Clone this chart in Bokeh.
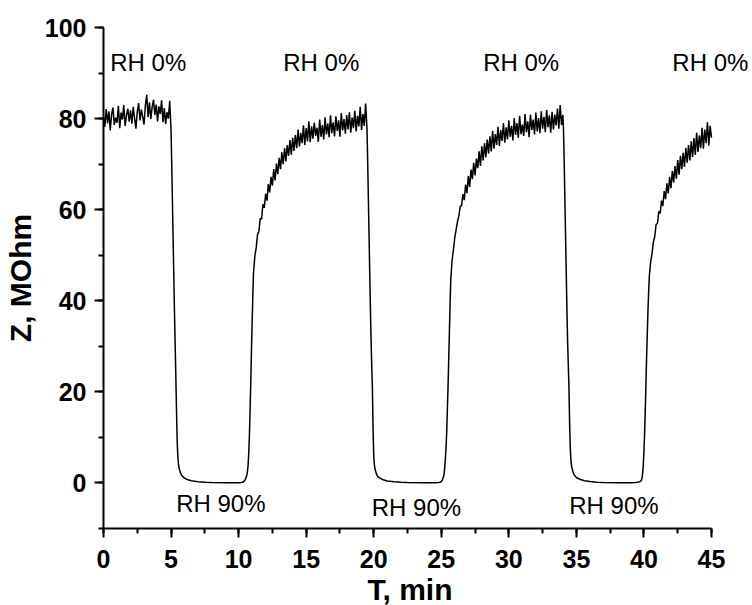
import numpy as np
from bokeh.plotting import figure
from bokeh.models import Range1d, SingleIntervalTicker, Label, Title
from bokeh.embed import file_html
from bokeh.resources import INLINE

# ---- data (Z in MOhm vs T in min) ----
STEP = 0.1
plateau0_t0 = 0.0
plateau0_z = [80.5, 78.2, 82.1, 79.0, 81.6, 77.4, 80.9, 82.4, 78.6, 80.2,
              79.1, 82.8, 77.9, 81.3, 79.8, 83.0, 78.4, 80.7, 82.2, 79.3,
              81.8, 78.9, 82.6, 80.1, 77.8, 81.5, 83.4, 79.6, 82.0, 80.4,
              78.7, 82.9, 85.2, 80.3, 83.6, 79.9, 82.5, 84.1, 80.8, 83.1,
              79.4, 82.7, 81.0, 84.0, 79.2, 82.3, 78.8, 81.4, 80.0, 83.9]

fall1_t = [5.0, 5.05, 5.1, 5.15, 5.2, 5.25, 5.3, 5.35, 5.4, 5.45, 5.5, 5.55, 5.6, 5.7, 5.8,
           6.0, 6.2, 6.5, 7.0, 7.5, 8.0, 9.0, 10.0, 10.2, 10.3, 10.4, 10.5, 10.6, 10.65,
           10.7, 10.75, 10.8, 10.85, 10.9, 10.95, 11.0, 11.05]
fall1_z = [77.5, 70.0, 62.0, 54.0, 46.0, 38.0, 31.0, 24.0, 16.5, 9.5, 5.8, 4.1, 3.2, 2.2, 1.6,
           1.05, 0.75, 0.5, 0.28, 0.16, 0.09, 0.04, 0.06, 0.1, 0.15, 0.35, 0.8, 1.6, 2.4,
           3.8, 6.5, 10.5, 16.0, 22.0, 29.0, 35.0, 41.0]

rise1_t0 = 11.1
rise1_z = [46.0, 49.8, 51.6, 54.5, 55.2, 58.1, 57.9, 61.2, 60.4,
           63.5, 62.0, 65.6, 63.8, 67.2, 65.3, 68.9, 66.4, 70.1, 67.8,
           71.4, 68.9, 72.6, 70.0, 73.5, 70.6, 74.2, 71.8, 75.3, 72.1,
           75.8, 72.9, 76.4, 73.5, 77.6, 73.9, 76.8, 74.6, 78.5, 74.2,
           77.9, 75.0, 79.4, 74.8, 78.3, 75.6, 79.1, 76.2, 78.0, 74.9,
           79.8, 76.0, 78.6, 75.4, 80.3, 76.5, 78.9, 75.9, 80.7, 76.8,
           79.2, 76.1, 80.5, 77.3, 79.6, 76.0, 81.2, 77.4, 79.9, 76.7,
           80.8, 77.6, 81.4, 76.9, 80.2, 77.9, 81.7, 77.2, 80.6, 78.3,
           82.6, 77.5, 81.0, 78.4, 83.3]

fall2_t = [19.5, 19.55, 19.6, 19.65, 19.7, 19.75, 19.8, 19.85, 19.9, 19.95, 20.0, 20.05,
           20.1, 20.2, 20.3, 20.5, 20.7, 21.0, 21.5, 22.0, 22.5, 23.5, 24.5, 24.8, 24.9,
           25.0, 25.1, 25.2, 25.25, 25.3, 25.35, 25.4, 25.45, 25.5, 25.55, 25.6, 25.65]
fall2_z = [78.0, 71.0, 63.0, 55.0, 47.0, 39.0, 32.0, 26.0, 21.0, 12.0, 6.0, 4.0,
           3.0, 2.0, 1.4, 1.0, 0.7, 0.45, 0.25, 0.15, 0.08, 0.03, 0.05, 0.1, 0.15,
           0.3, 0.8, 1.8, 3.2, 5.2, 7.5, 11.0, 16.0, 21.0, 27.0, 33.0, 39.0]

rise2_t0 = 25.7
rise2_z = [44.5, 48.9, 51.2,
           53.9, 55.6, 57.4, 58.6, 60.7, 60.9, 63.4, 62.1, 65.5, 63.6,
           67.4, 65.0, 68.8, 66.7, 70.3, 67.5, 71.2, 69.1, 72.8, 69.6,
           73.9, 70.8, 74.6, 71.5, 75.4, 72.3, 76.1, 72.8, 77.3, 73.4,
           76.6, 74.2, 78.2, 74.0, 77.5, 75.1, 79.0, 74.7, 78.1, 75.5,
           79.6, 76.0, 78.4, 75.2, 80.1, 76.4, 79.0, 75.8, 80.6, 76.6,
           78.7, 76.2, 81.0, 77.0, 79.4, 75.9, 80.9, 77.5, 79.8, 76.5,
           81.3, 77.2, 80.1, 76.8, 81.6, 77.8, 80.4, 77.0, 81.9, 78.1,
           80.7, 76.9, 81.5, 77.6, 80.9, 78.5, 82.2, 77.8, 83.0, 78.6,
           80.8]

fall3_t = [34.05, 34.1, 34.15, 34.2, 34.25, 34.3, 34.35, 34.4, 34.45, 34.5, 34.55, 34.6,
           34.65, 34.75, 34.85, 35.0, 35.3, 35.6, 36.0, 36.5, 37.0, 38.0, 39.0, 39.4, 39.6,
           39.7, 39.8, 39.85, 39.9, 39.95, 40.0, 40.05, 40.1, 40.15, 40.2, 40.25, 40.3, 40.35]
fall3_z = [77.0, 70.0, 62.0, 54.0, 46.0, 38.0, 31.0, 26.0, 21.0, 13.0, 7.5, 4.8,
           3.6, 2.4, 1.7, 1.2, 0.75, 0.5, 0.3, 0.18, 0.1, 0.04, 0.05, 0.12, 0.2,
           0.3, 0.5, 1.0, 2.0, 3.8, 7.0, 11.0, 16.0, 22.0, 28.0, 33.0, 38.0, 42.0]

rise3_t0 = 40.4
rise3_z = [45.5, 48.6, 50.4, 52.9, 54.1, 56.8,
           57.0, 59.6, 59.2, 62.0, 60.8, 64.1, 62.3, 65.8, 63.6, 67.2,
           64.7, 68.5, 66.0, 69.6, 66.8, 70.9, 67.7, 71.8, 68.9, 72.5,
           69.4, 73.6, 70.3, 74.2, 70.8, 75.0, 71.6, 75.7, 72.0, 76.9,
           72.7, 76.3, 73.5, 78.0, 73.4, 77.6, 74.6, 79.2, 74.1, 78.4,
           75.8]

ann_x = [0.5, 13.3, 28.1, 42.1, 5.38, 19.85, 34.47]
ann_y = [92.3, 92.3, 92.3, 92.3, -4.6, -5.4, -5.0]
ann_text = ["RH 0%", "RH 0%", "RH 0%", "RH 0%", "RH 90%", "RH 90%", "RH 90%"]

x_label = "T, min"
y_label = "Z, MOhm"
x_min, x_max = 0, 45
y_min, y_max = -10, 100


def grid(t0, z):
    return [round(t0 + STEP * i, 2) for i in range(len(z))]


T = (grid(plateau0_t0, plateau0_z) + fall1_t + grid(rise1_t0, rise1_z) + fall2_t +
     grid(rise2_t0, rise2_z) + fall3_t + grid(rise3_t0, rise3_z))
Z = plateau0_z + fall1_z + rise1_z + fall2_z + rise2_z + fall3_z + rise3_z

FONT = "Liberation Sans"

# frame spans x 103..752 px; the axis itself is bounded to 0..45 (ending at ~711 px)
LEFT, AXIS_LEN, FRAME_W = 103, 608, 649
x_end = x_max * FRAME_W / AXIS_LEN

p = figure(width=752, height=605, x_range=Range1d(x_min, x_end), y_range=Range1d(y_min, y_max),
           output_backend="svg", toolbar_location=None,
           min_border_left=LEFT, min_border_right=0, min_border_top=27, min_border_bottom=77)
p.title.visible = False
p.outline_line_color = None
p.xgrid.visible = False
p.ygrid.visible = False
p.background_fill_color = "white"
p.border_fill_color = "white"

p.line(T, Z, line_color="black", line_width=1.5)

p.xaxis.ticker = SingleIntervalTicker(interval=5, num_minor_ticks=2)
p.yaxis.ticker = SingleIntervalTicker(interval=20, num_minor_ticks=2)
p.xaxis.bounds = (x_min, x_max)
for ax in (p.xaxis[0], p.yaxis[0]):
    ax.axis_line_width = 2
    ax.axis_line_color = "black"
    ax.major_tick_line_width = 2
    ax.minor_tick_line_width = 2
    ax.major_tick_line_color = "black"
    ax.minor_tick_line_color = "black"
    ax.major_tick_in = 0
    ax.major_tick_out = 9
    ax.minor_tick_in = 0
    ax.minor_tick_out = 5
    ax.major_label_text_font = FONT
    ax.major_label_text_font_style = "bold"
    ax.major_label_text_font_size = "25px"
    ax.major_label_text_color = "black"
    ax.axis_label_text_font = FONT
    ax.axis_label_text_font_style = "bold"
    ax.axis_label_text_font_size = "30px"
    ax.axis_label_text_color = "black"
    ax.major_label_standoff = 8
p.xaxis.major_label_standoff = 12

p.yaxis.axis_label = y_label
p.yaxis.axis_label_standoff = 5

# x-axis title centred under the bounded axis (0..45), not under the wider frame
xt = Title(text=x_label, align="left", offset=264, standoff=0,
           text_font=FONT, text_font_size="30px", text_font_style="bold", text_color="black")
p.add_layout(xt, "below")

for x, y, s in zip(ann_x, ann_y, ann_text):
    p.add_layout(Label(x=x, y=y, text=s, text_font=FONT, text_font_size="24px",
                       text_align="left", text_baseline="middle", text_color="black"))

open("out.html", "w").write(file_html(p, INLINE))
